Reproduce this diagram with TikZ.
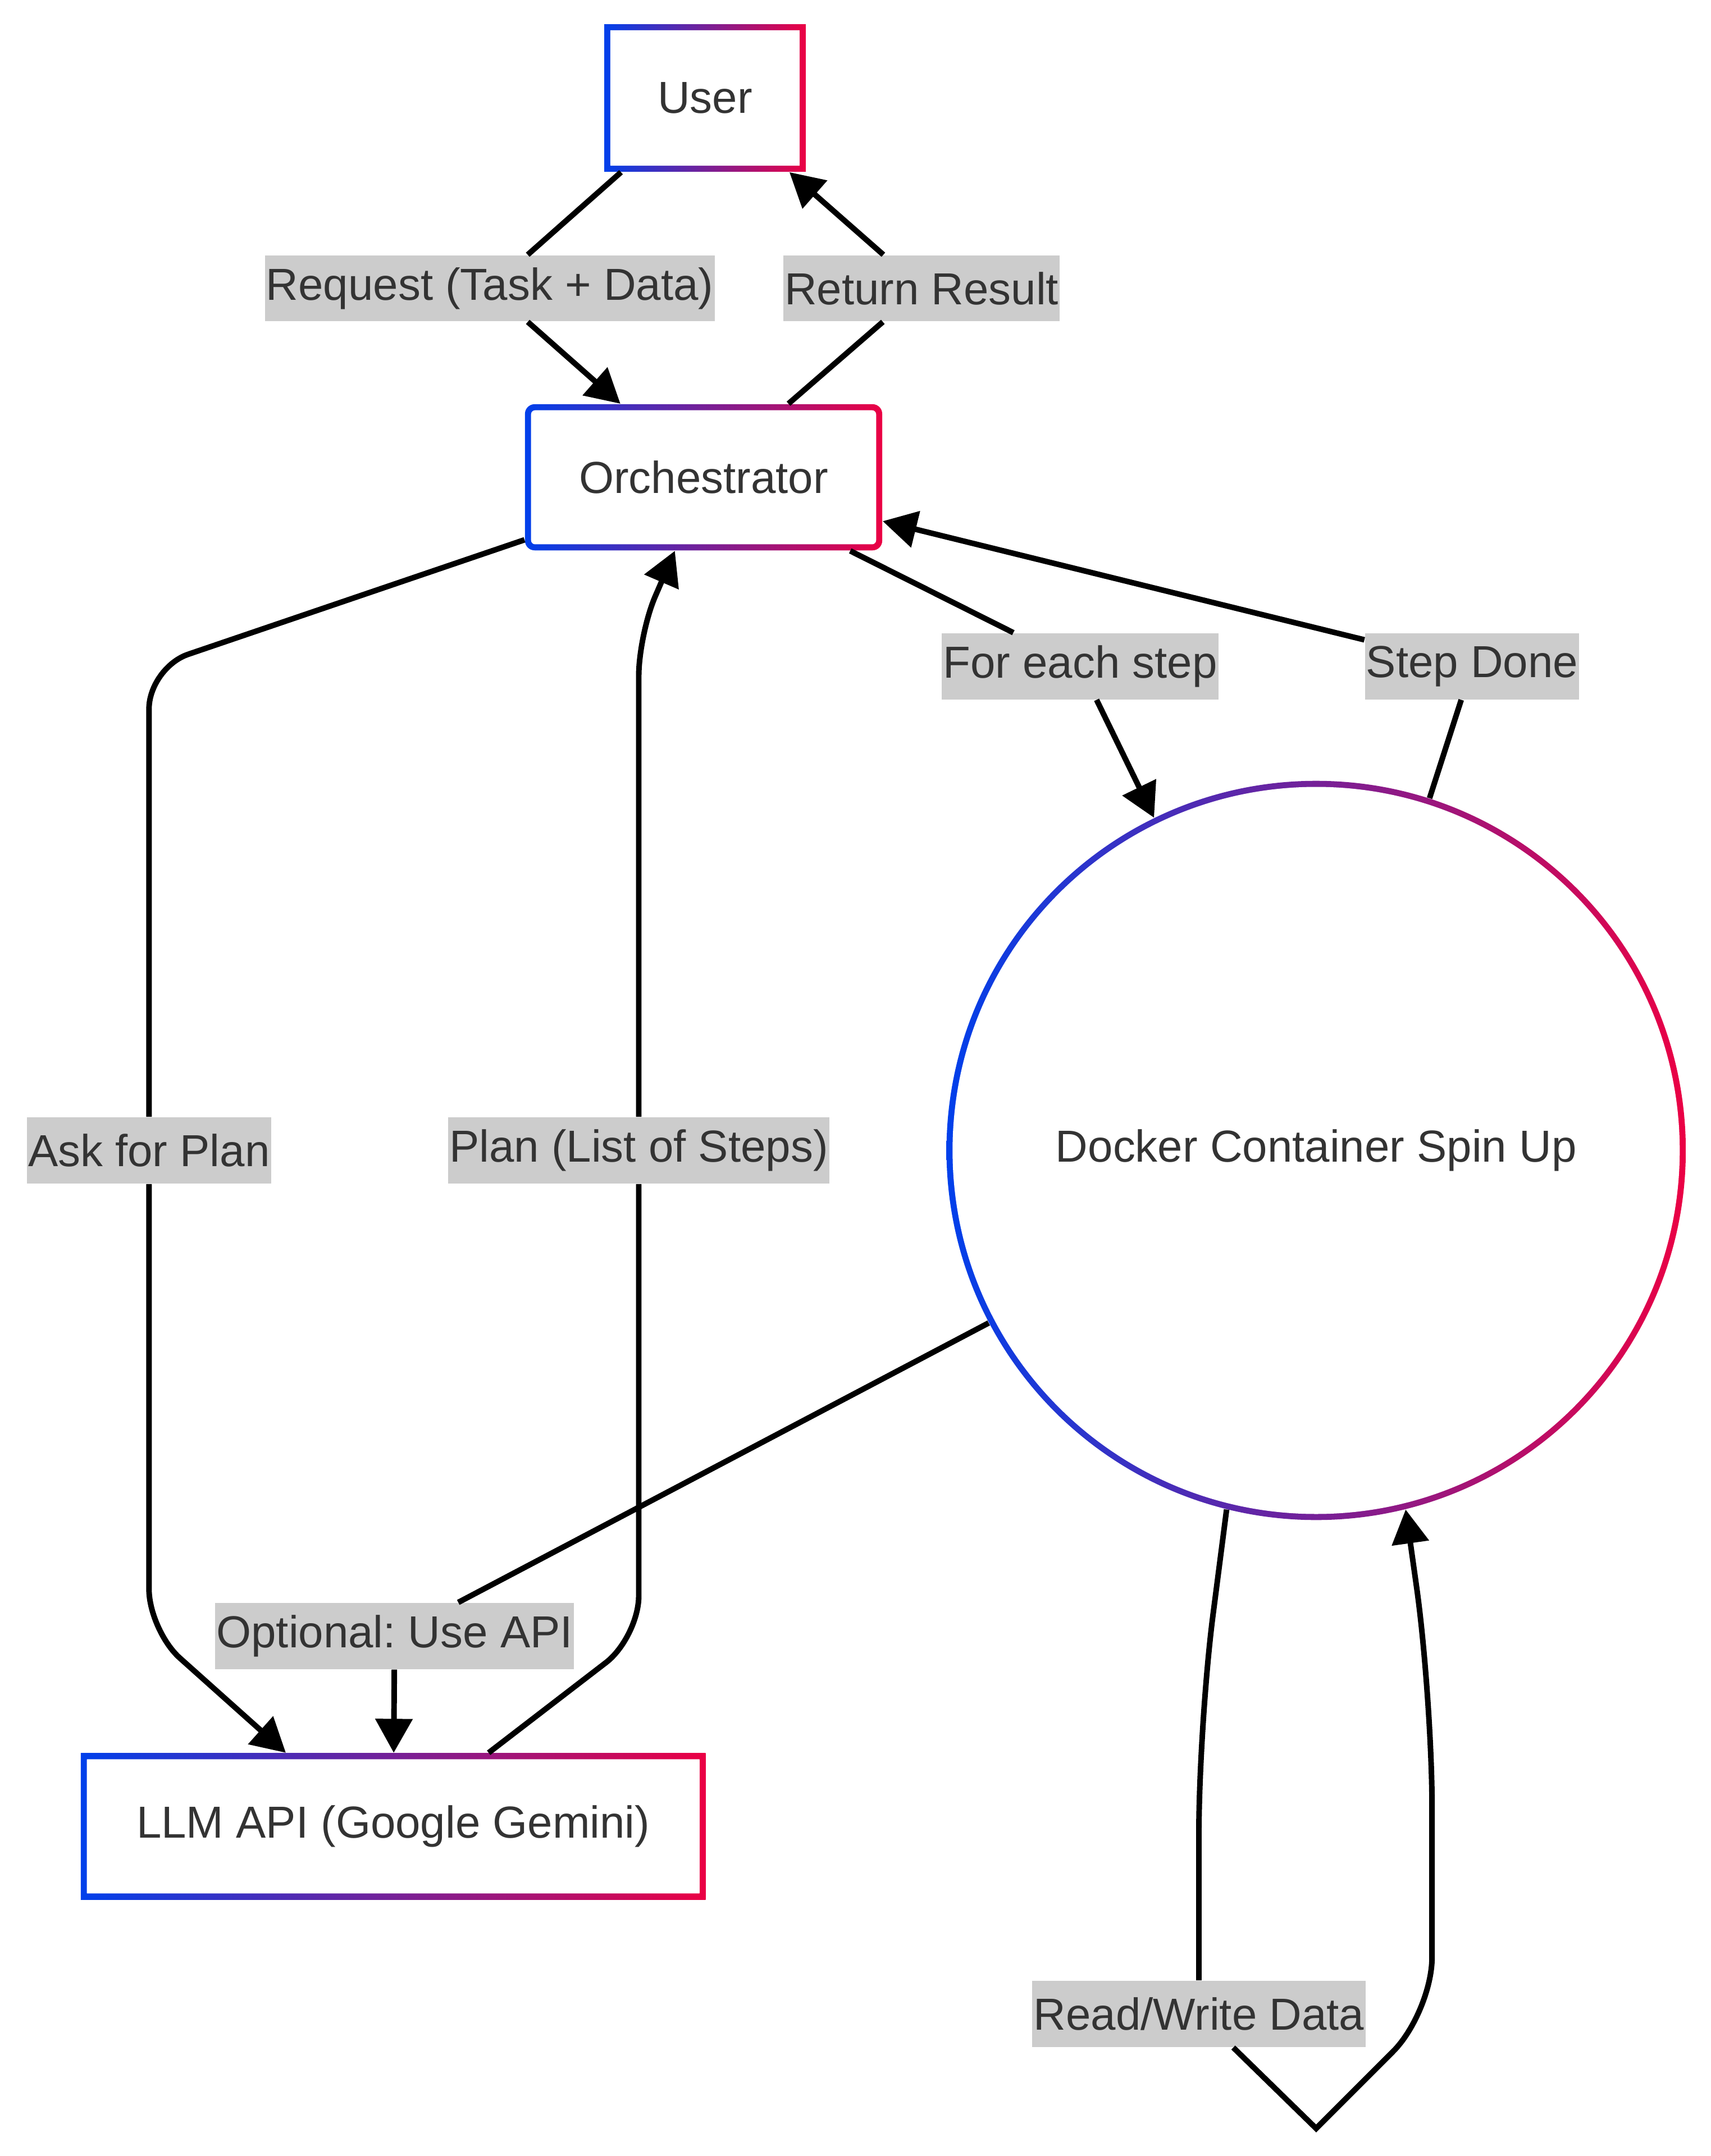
\documentclass[tikz,border=0pt]{standalone}
\usepackage{fontspec}
\setmainfont{Liberation Sans}
\usepackage{tikz}
\usepackage{color}
\usetikzlibrary{positioning,calc,arrows.meta}

\definecolor{gradblue}{RGB}{0,64,235}
\definecolor{gradred}{RGB}{235,0,68}
\definecolor{labelgray}{RGB}{204,204,204}
\definecolor{textgray}{RGB}{51,51,51}

\frenchspacing

\begin{document}
\begin{tikzpicture}[x=0.02cm, y=-0.02cm,
		font=\fontsize{18.5}{22}\selectfont, text=textgray,
		gradbox/.style={rectangle, minimum height=2.12cm, path picture={
			\shade[left color=gradblue, right color=gradred] (path picture bounding box.south west) rectangle (path picture bounding box.north east);
			\fill[white, rounded corners=#1] ([shift={(2.5pt,2.5pt)}]path picture bounding box.south west) rectangle ([shift={(-2.5pt,-2.5pt)}]path picture bounding box.north east);}},
		gradbox/.default=0.1pt,
		gradcircle/.style={circle, minimum size=10.72cm, path picture={
			\shade[left color=gradblue, right color=gradred] (path picture bounding box.south west) rectangle (path picture bounding box.north east);
			\fill[white] (path picture bounding box.center) circle (5.272cm);}},
		edgelabel/.style={fill=labelgray, inner xsep=0.5pt, inner ysep=0pt, minimum height=0.96cm},
		flow/.style={draw=black, line width=2.3pt, -{Triangle[length=14pt,width=15pt]}}]
		
		\useasboundingbox (0,0) rectangle (1240,1563);
		
		% Draw the boxes
		\node[gradbox, minimum width=2.92cm, minimum height=2.14cm] (user) at (511,71) {User};
		\node[gradbox=0.06cm, rounded corners=0.14cm, minimum width=5.18cm] (orch) at (510,346) {Orchestrator};
		\node[gradcircle] (docker) at (954,834) {Docker Container Spin Up};
		\node[gradbox, minimum width=9.06cm] (llm) at (285,1324) {LLM API (Google Gemini)};
		
		% Place the edge labels
		\node[edgelabel] (lreq) at (355,209) {Request (Task + Data)};
		\node[edgelabel] (lret) at (668,209) {Return Result};
		\node[edgelabel] (lfor) at (783,483) {For each step};
		\node[edgelabel] (ldone) at (1067,483) {Step Done};
		\node[edgelabel] (lask) at (108,834) {Ask for Plan};
		\node[edgelabel] (lplan) at (463,834) {Plan (List of Steps)};
		\node[edgelabel] (lopt) at (286,1186) {Optional: Use API};
		\node[edgelabel] (lrw) at (869,1460) {Read/Write Data};
		
		% Draw the connectors
		\draw[flow] (user) -- (lreq) -- (orch);
		\draw[flow] (orch) -- (lret) -- (user);
		\draw[flow] (orch) -- (lfor) -- (docker);
		\draw[flow] (docker) -- (ldone) -- (orch);
		\draw[flow, rounded corners=0.6cm] ($(orch.south west)+(0,-8)$) -- (108,484) -- (lask) -- (108,1182) -- ($(llm.north west)+(149,0)$);
		\draw[flow, rounded corners=0.6cm] ($(llm.north west)+(296,0)$) -- (463,1187) -- (lplan) -- (463,460) -- ($(orch.south west)+(109,0)$);
		\draw[flow] (docker) -- (lopt) -- (llm);
		\draw[flow, rounded corners=1.6cm] (docker.256) -- (869,1250) -- (lrw) [sharp corners] -- (954,1543) [rounded corners=0.8cm] -- (1038,1459) [rounded corners=1.6cm] -- (1038,1230) -- (docker.284);
		
	\end{tikzpicture}
\end{document}
